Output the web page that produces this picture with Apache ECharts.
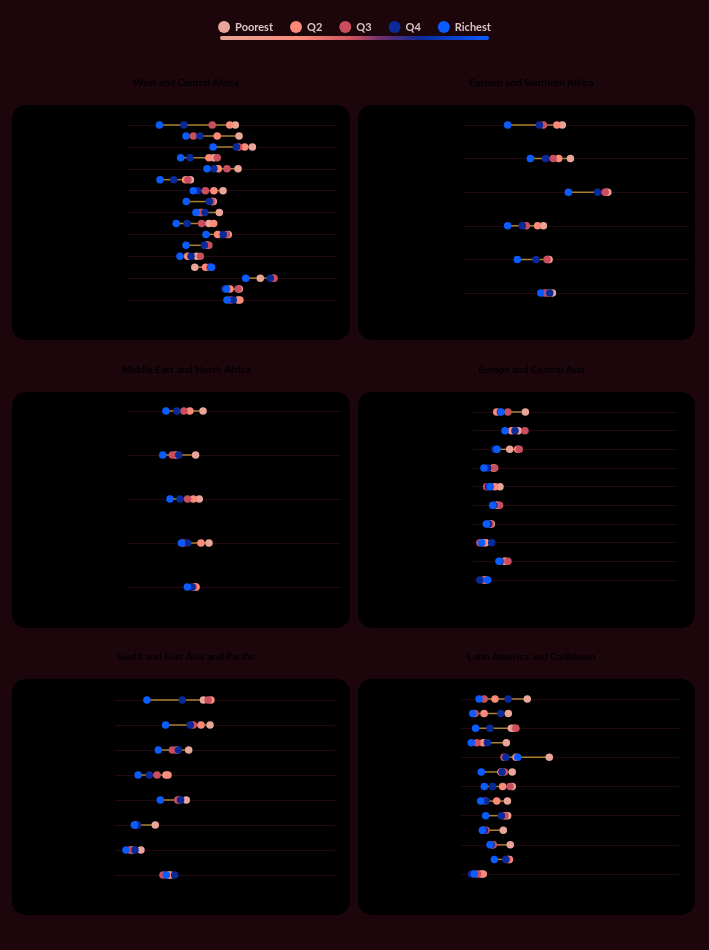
<!DOCTYPE html>
<html>
<head>
<meta charset="utf-8">
<script src="https://cdn.jsdelivr.net/npm/echarts@6/dist/echarts.min.js"></script>
<style>
  html, body { margin: 0; padding: 0; background: #1c060c; }
  #chart { width: 709px; height: 950px; }
</style>
</head>
<body>
<div id="chart"></div>
<script>
// quintiles, in legend order
const quintiles = ['Poorest', 'Q2', 'Q3', 'Q4', 'Richest']
const quintileColors = ['#e8a598', '#fb8a78', '#c94f5f', '#0b2a9a', '#0b5cff']
const regionNames = [
  'West and Central Africa',
  'Eastern and Southern Africa',
  'Middle East and North Africa',
  'Europe and Central Asia',
  'South and East Asia and Pacific',
  'Latin America and Caribbean'
]

// West and Central Africa (17 rows)
const wcaPoorest = [51.6, 53.4, 59.8, 41.3, 52.9, 30.0, 45.7, 41.0, 43.9, 38.9, 48.2, 37.8, 33.0, 32.1, 63.6, 53.5, 53.0]
const wcaQ2 = [48.9, 42.9, 56.1, 38.9, 43.4, 27.7, 41.3, 40.4, 35.4, 41.2, 43.1, 38.3, 28.7, 37.3, 69.9, 49.0, 53.8]
const wcaQ3 = [40.5, 31.4, 53.2, 42.9, 47.6, 28.8, 37.2, 40.2, 34.6, 35.4, 47.4, 38.9, 34.8, 39.4, 70.2, 52.9, 49.4]
const wcaQ4 = [26.9, 34.6, 52.1, 29.8, 41.3, 22.0, 33.5, 39.1, 37.0, 28.4, 45.8, 36.7, 30.3, 39.9, 68.4, 46.6, 50.6]
const wcaRichest = [15.1, 27.9, 40.9, 25.3, 38.0, 15.4, 31.4, 28.0, 32.7, 23.2, 37.5, 27.9, 25.0, 40.2, 56.6, 47.4, 47.6]

// Eastern and Southern Africa (6 rows)
const esaPoorest = [43.7, 47.3, 63.9, 35.3, 37.8, 39.3]
const esaQ2 = [41.3, 42.1, 63.0, 32.7, 37.2, 37.5]
const esaQ3 = [35.3, 39.6, 62.7, 27.7, 36.9, 35.9]
const esaQ4 = [33.5, 36.3, 59.4, 25.9, 32.0, 38.1]
const esaRichest = [19.4, 29.5, 46.4, 19.4, 23.7, 34.1]

// Middle East and North Africa (5 rows)
const menaPoorest = [35.4, 31.9, 33.6, 38.2, 31.8]
const menaQ2 = [29.2, 22.5, 30.8, 34.4, 32.1]
const menaQ3 = [26.4, 20.9, 28.1, 26.1, 30.8]
const menaQ4 = [23.0, 23.9, 24.5, 28.1, 30.2]
const menaRichest = [17.9, 16.4, 19.8, 25.2, 28.0]

// Europe and Central Asia (10 rows)
const ecaPoorest = [25.8, 22.3, 18.1, 10.3, 13.3, 11.5, 9.0, 6.2, 16.1, 5.6]
const ecaQ2 = [11.7, 19.0, 22.0, 10.0, 10.8, 12.2, 8.2, 5.3, 15.4, 6.2]
const ecaQ3 = [17.2, 25.6, 22.8, 10.7, 6.7, 13.1, 8.5, 3.4, 17.2, 5.1]
const ecaQ4 = [13.5, 20.7, 10.8, 7.2, 7.6, 10.2, 7.6, 9.2, 13.3, 3.4]
const ecaRichest = [13.8, 15.8, 11.8, 5.4, 8.5, 9.7, 6.6, 4.3, 12.8, 7.2]

// South and East Asia and Pacific (8 rows)
const seapPoorest = [40.2, 43.2, 33.5, 23.2, 32.4, 18.3, 11.8, 25.2]
const seapQ2 = [43.6, 39.1, 28.0, 24.1, 29.2, 9.7, 7.6, 24.4]
const seapQ3 = [42.3, 35.6, 26.1, 19.1, 28.5, 9.4, 6.8, 21.8]
const seapQ4 = [30.6, 34.2, 28.8, 15.6, 29.8, 10.2, 9.1, 27.1]
const seapRichest = [14.5, 23.0, 19.7, 10.5, 20.6, 8.8, 5.0, 23.3]

// Latin America and Caribbean (13 rows)
const lacPoorest = [30.4, 21.7, 23.1, 20.8, 40.5, 23.5, 23.5, 21.3, 21.4, 19.4, 22.6, 21.8, 9.2]
const lacQ2 = [15.6, 10.6, 24.5, 10.1, 25.2, 18.3, 19.1, 16.4, 20.0, 10.4, 14.4, 22.2, 10.2]
const lacQ3 = [10.6, 6.4, 25.2, 7.3, 19.7, 19.9, 22.5, 11.0, 20.2, 11.5, 14.8, 21.1, 7.6]
const lacQ4 = [21.6, 18.2, 13.3, 12.1, 20.6, 18.8, 14.5, 11.5, 18.5, 10.7, 13.8, 20.5, 4.9]
const lacRichest = [8.3, 5.4, 6.7, 4.7, 26.0, 9.3, 10.7, 9.0, 11.3, 9.8, 13.3, 15.3, 6.1]

const regionValues = [
  [wcaPoorest, wcaQ2, wcaQ3, wcaQ4, wcaRichest],
  [esaPoorest, esaQ2, esaQ3, esaQ4, esaRichest],
  [menaPoorest, menaQ2, menaQ3, menaQ4, menaRichest],
  [ecaPoorest, ecaQ2, ecaQ3, ecaQ4, ecaRichest],
  [seapPoorest, seapQ2, seapQ3, seapQ4, seapRichest],
  [lacPoorest, lacQ2, lacQ3, lacQ4, lacRichest]
]

// layout: panel boxes [x, y, w, h] and plot areas [left, top, width, height]
const panelBoxes = [
  [12, 105, 338, 235], [358, 105, 337, 235],
  [12, 392, 338, 236], [358, 392, 337, 236],
  [12, 679, 338, 236], [358, 679, 337, 236]
]
const plotBoxes = [
  [128, 125, 208, 175], [464, 125, 225, 168],
  [128, 411, 212, 176], [473, 412, 203, 168],
  [115, 700, 220, 175], [461, 699, 218, 175]
]
const titleTops = [73, 73, 360, 360, 647, 647]

const grid = []
const xAxis = []
const yAxis = []
const series = []
const title = []
const graphic = []

panelBoxes.forEach((b, i) => {
  graphic.push({
    type: 'rect',
    z: -10,
    shape: { x: b[0], y: b[1], width: b[2], height: b[3], r: 14 },
    style: { fill: '#000000' }
  })
  title.push({
    text: regionNames[i],
    left: b[0] + b[2] / 2,
    top: titleTops[i],
    textAlign: 'center',
    textStyle: { color: '#000000', fontSize: 10, fontWeight: 'bold', fontFamily: 'Lato' }
  })
})

// gradient bar under the legend
graphic.push({
  type: 'rect',
  shape: { x: 220, y: 36, width: 269, height: 4, r: 2 },
  style: {
    fill: new echarts.graphic.LinearGradient(0, 0, 1, 0, [
      { offset: 0, color: '#e8a598' },
      { offset: 0.3, color: '#f98a78' },
      { offset: 0.5, color: '#c94f5f' },
      { offset: 0.6, color: '#6a2f6e' },
      { offset: 0.75, color: '#0b2a9a' },
      { offset: 1, color: '#0b5cff' }
    ])
  }
})

regionValues.forEach((vals, i) => {
  const p = plotBoxes[i]
  const rows = vals[0].map((_, k) => String(k + 1))
  grid.push({ left: p[0], top: p[1], width: p[2], height: p[3] })
  xAxis.push({
    gridIndex: i,
    type: 'value',
    min: 0,
    max: 100,
    show: false
  })
  yAxis.push({
    gridIndex: i,
    type: 'category',
    data: rows,
    inverse: true,
    boundaryGap: false,
    axisLine: { show: false },
    axisTick: { show: false },
    axisLabel: { show: false },
    splitLine: { show: true, lineStyle: { color: '#25090f', width: 1 } }
  })
  // min-to-max connector per row
  const ranges = rows.map((_, k) => {
    const v = vals.map(arr => arr[k])
    return [Math.min(...v), Math.max(...v), k]
  })
  series.push({
    type: 'custom',
    xAxisIndex: i,
    yAxisIndex: i,
    z: 1,
    silent: true,
    encode: { x: [0, 1], y: 2 },
    data: ranges,
    renderItem: (params, api) => {
      const a = api.coord([api.value(0), api.value(2)])
      const b = api.coord([api.value(1), api.value(2)])
      return {
        type: 'line',
        shape: { x1: a[0], y1: a[1], x2: b[0], y2: b[1] },
        style: { stroke: '#a88030', lineWidth: 1.5 }
      }
    }
  })
  quintiles.forEach((q, j) => {
    series.push({
      name: q,
      type: 'scatter',
      xAxisIndex: i,
      yAxisIndex: i,
      z: 2 + j,
      symbolSize: 7.5,
      itemStyle: { color: quintileColors[j], opacity: 1 },
      data: vals[j].map((v, k) => [v, k])
    })
  })
})

const option = {
  backgroundColor: '#1c060c',
  animation: false,
  title,
  color: quintileColors,
  legend: {
    data: quintiles,
    top: 16,
    left: 'center',
    icon: 'circle',
    itemWidth: 12,
    itemHeight: 12,
    itemGap: 17,
    textStyle: { color: '#d9c3c7', fontSize: 11, fontWeight: 'bold', fontFamily: 'Lato' }
  },
  grid,
  xAxis,
  yAxis,
  graphic,
  series
}

const myChart = echarts.init(document.getElementById('chart'))
myChart.setOption(option)
</script>
</body>
</html>
